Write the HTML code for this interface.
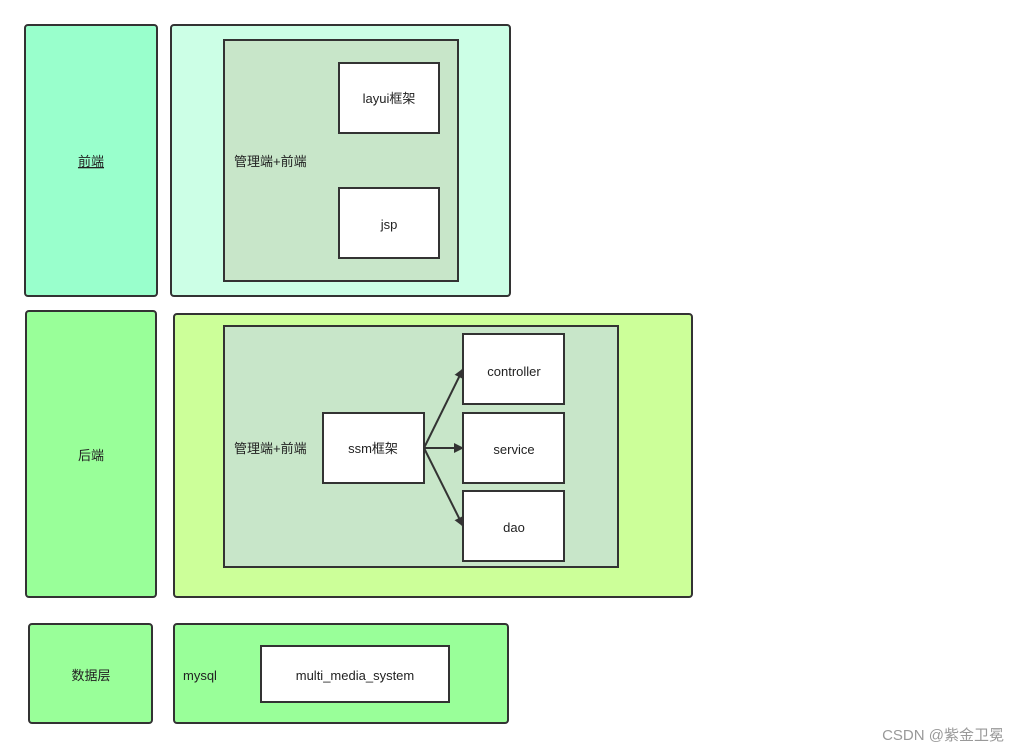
<!DOCTYPE html>
<html><head><meta charset="utf-8"><style>
html,body{margin:0;padding:0;background:#fff;}
svg{display:block;}
text{font-family:"Liberation Sans","Noto Sans CJK SC",sans-serif;font-size:13px;fill:#222;}
</style></head><body>
<svg width="1020" height="752" viewBox="0 0 1020 752" xmlns="http://www.w3.org/2000/svg">
<defs><marker id="a" markerWidth="10" markerHeight="10" refX="9" refY="5" orient="auto" markerUnits="userSpaceOnUse"><path d="M0,0 L10,5 L0,10 Z" fill="#333"/></marker></defs>
<g stroke="#333" stroke-width="2">
<rect x="25" y="25" width="132" height="271" rx="3" fill="#99ffcc"/>
<rect x="171" y="25" width="339" height="271" rx="3" fill="#ccffe6"/>
<rect x="224" y="40" width="234" height="241" fill="#c8e6c9"/>
<rect x="339" y="63" width="100" height="70" fill="#fff"/>
<rect x="339" y="188" width="100" height="70" fill="#fff"/>
<rect x="26" y="311" width="130" height="286" rx="3" fill="#99ff99"/>
<rect x="174" y="314" width="518" height="283" rx="3" fill="#ccff99"/>
<rect x="224" y="326" width="394" height="241" fill="#c8e6c9"/>
<rect x="323" y="413" width="101" height="70" fill="#fff"/>
<rect x="463" y="334" width="101" height="70" fill="#fff"/>
<rect x="463" y="413" width="101" height="70" fill="#fff"/>
<rect x="463" y="491" width="101" height="70" fill="#fff"/>
<rect x="29" y="624" width="123" height="99" rx="3" fill="#99ff99"/>
<rect x="174" y="624" width="334" height="99" rx="3" fill="#99ff99"/>
<rect x="261" y="646" width="188" height="56" fill="#fff"/>
<line x1="424" y1="448" x2="463" y2="369" marker-end="url(#a)"/>
<line x1="424" y1="448" x2="463" y2="448" marker-end="url(#a)"/>
<line x1="424" y1="448" x2="463" y2="526" marker-end="url(#a)"/>
</g>
<text x="91" y="166" text-anchor="middle" text-decoration="underline">前端</text>
<text x="234" y="166">管理端+前端</text>
<text x="389" y="103" text-anchor="middle">layui框架</text>
<text x="389" y="229" text-anchor="middle">jsp</text>
<text x="91" y="460" text-anchor="middle">后端</text>
<text x="234" y="453">管理端+前端</text>
<text x="373" y="453" text-anchor="middle">ssm框架</text>
<text x="514" y="376" text-anchor="middle">controller</text>
<text x="514" y="454" text-anchor="middle">service</text>
<text x="514" y="532" text-anchor="middle">dao</text>
<text x="91" y="680" text-anchor="middle">数据层</text>
<text x="183" y="680">mysql</text>
<text x="355" y="680" text-anchor="middle">multi_media_system</text>
<text x="1004" y="740" text-anchor="end" style="font-size:15px;fill:#999">CSDN @紫金卫冕</text>
</svg>
</body></html>
